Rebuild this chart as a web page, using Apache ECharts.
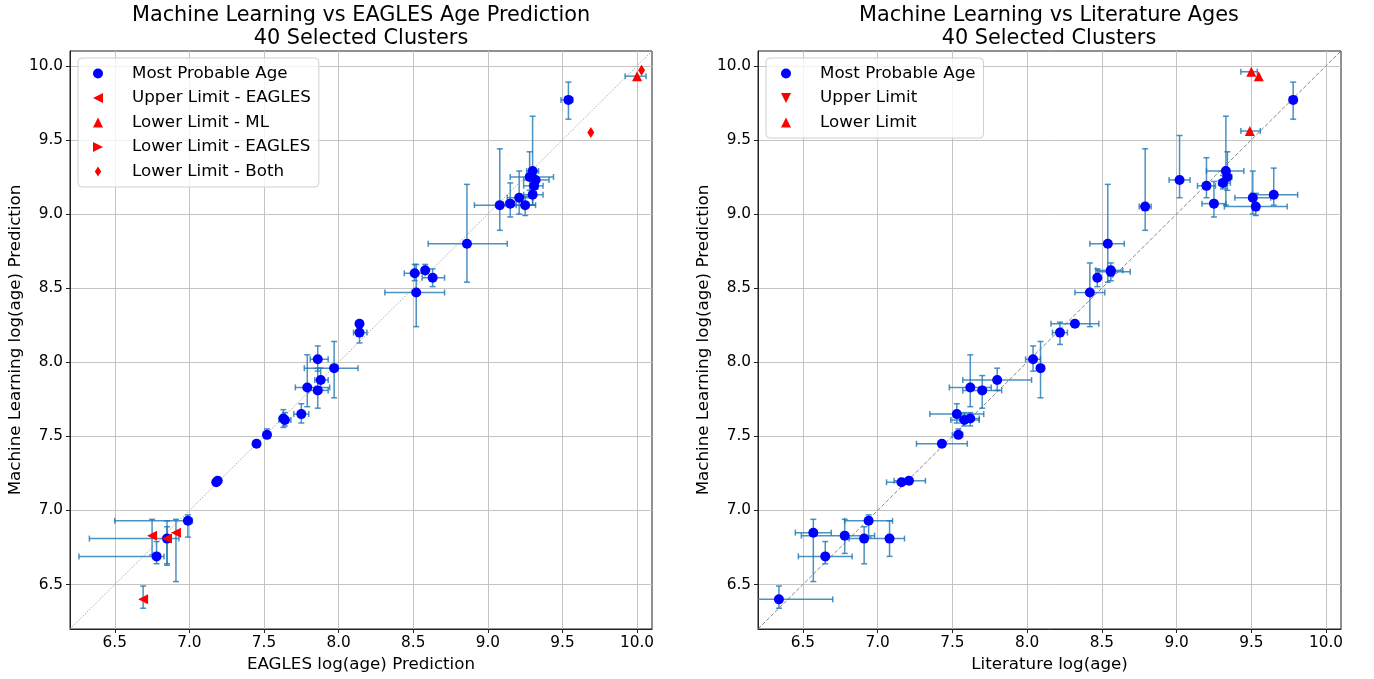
<!DOCTYPE html>
<html>
<head>
<meta charset="utf-8">
<script src="https://cdn.jsdelivr.net/npm/echarts@6.0.0/dist/echarts.min.js"></script>
<style>
  html, body { margin: 0; padding: 0; background: #fff; }
  #chart { width: 1374px; height: 679px; }
</style>
</head>
<body>
<div id="chart"></div>
<script>
// axis range and ticks (both panels)
const axisMin = 6.2;
const axisMax = 10.1;
const tickValues = [6.5, 7.0, 7.5, 8.0, 8.5, 9.0, 9.5, 10.0];
const diagonal = [[6.2, 6.2], [10.1, 10.1]];

// rows: [x, y, xLow, xHigh, yLow, yHigh]
// left panel: EAGLES prediction vs ML prediction
const eaglesMostProbable = [
  [9.54, 9.77, 9.49, 9.57, 9.64, 9.89],
  [9.30, 9.29, 9.26, 9.34, 9.06, 9.66],
  [9.28, 9.25, 9.15, 9.44, 9.16, 9.42],
  [9.32, 9.23, 9.24, 9.41, 9.17, 9.29],
  [9.31, 9.19, 9.24, 9.37, 9.15, 9.26],
  [9.30, 9.13, 9.24, 9.37, 9.06, 9.28],
  [9.21, 9.11, 9.13, 9.30, 9.00, 9.29],
  [9.15, 9.07, 9.12, 9.18, 8.98, 9.21],
  [9.08, 9.06, 8.91, 9.26, 8.89, 9.44],
  [9.25, 9.06, 9.19, 9.32, 8.99, 9.12],
  [8.86, 8.80, 8.60, 9.13, 8.54, 9.20],
  [8.51, 8.60, 8.44, 8.58, 8.55, 8.66],
  [8.58, 8.62, 8.58, 8.58, 8.60, 8.66],
  [8.63, 8.57, 8.56, 8.71, 8.51, 8.63],
  [8.52, 8.47, 8.31, 8.71, 8.24, 8.66],
  [8.14, 8.26, 8.14, 8.14, 8.24, 8.28],
  [8.14, 8.20, 8.10, 8.19, 8.13, 8.25],
  [7.86, 8.02, 7.81, 7.93, 7.94, 8.11],
  [7.97, 7.96, 7.77, 8.13, 7.76, 8.14],
  [7.88, 7.88, 7.84, 7.93, 7.81, 7.96],
  [7.79, 7.83, 7.71, 7.94, 7.70, 8.05],
  [7.86, 7.81, 7.80, 7.93, 7.69, 7.96],
  [7.75, 7.65, 7.70, 7.80, 7.59, 7.72],
  [7.63, 7.62, 7.63, 7.63, 7.56, 7.68],
  [7.64, 7.61, 7.60, 7.68, 7.57, 7.66],
  [7.52, 7.51, 7.52, 7.52, 7.49, 7.55],
  [7.45, 7.45, 7.45, 7.45, 7.45, 7.45],
  [7.18, 7.19, 7.18, 7.18, 7.19, 7.19],
  [7.19, 7.20, 7.19, 7.19, 7.20, 7.20],
  [6.99, 6.93, 6.50, 7.02, 6.82, 6.97],
  [6.85, 6.81, 6.33, 6.93, 6.63, 6.89],
  [6.78, 6.69, 6.26, 6.83, 6.64, 6.79]
];
const eaglesUpperLimit = [
  [6.75, 6.83, 6.75, 6.75, 6.70, 6.94],
  [6.85, 6.81, 6.85, 6.85, 6.64, 6.93],
  [6.91, 6.85, 6.91, 6.91, 6.52, 6.94],
  [6.69, 6.40, 6.69, 6.69, 6.34, 6.49]
];
const mlLowerLimit = [
  [10.00, 9.93, 9.92, 10.06, 9.93, 9.93]
];
const eaglesLowerLimit = [];
const bothLowerLimit = [
  [10.03, 9.97, 10.03, 10.03, 9.97, 9.97],
  [9.69, 9.55, 9.69, 9.69, 9.55, 9.55]
];

// right panel: literature age vs ML prediction
const litMostProbable = [
  [9.78, 9.77, 9.78, 9.78, 9.64, 9.89],
  [9.33, 9.29, 9.20, 9.45, 9.06, 9.66],
  [9.34, 9.25, 9.31, 9.37, 9.16, 9.42],
  [9.31, 9.21, 9.28, 9.36, 9.17, 9.26],
  [9.20, 9.19, 9.14, 9.26, 9.11, 9.38],
  [9.02, 9.23, 8.95, 9.09, 9.11, 9.53],
  [9.25, 9.07, 9.17, 9.33, 8.98, 9.22],
  [9.51, 9.11, 9.39, 9.63, 9.00, 9.29],
  [9.65, 9.13, 9.50, 9.81, 9.06, 9.31],
  [9.53, 9.05, 9.32, 9.74, 8.99, 9.14],
  [8.79, 9.05, 8.75, 8.83, 8.89, 9.44],
  [8.54, 8.80, 8.42, 8.65, 8.54, 9.20],
  [8.56, 8.62, 8.46, 8.64, 8.55, 8.67],
  [8.56, 8.61, 8.48, 8.69, 8.58, 8.64],
  [8.47, 8.57, 8.47, 8.47, 8.51, 8.63],
  [8.42, 8.47, 8.32, 8.52, 8.24, 8.67],
  [8.32, 8.26, 8.16, 8.48, 8.24, 8.28],
  [8.22, 8.20, 8.17, 8.27, 8.12, 8.27],
  [8.04, 8.02, 7.99, 8.09, 7.94, 8.11],
  [8.09, 7.96, 8.09, 8.09, 7.76, 8.14],
  [7.80, 7.88, 7.57, 8.03, 7.81, 7.96],
  [7.62, 7.83, 7.48, 7.76, 7.70, 8.05],
  [7.70, 7.81, 7.57, 7.83, 7.69, 7.91],
  [7.53, 7.65, 7.35, 7.71, 7.59, 7.72],
  [7.58, 7.61, 7.49, 7.68, 7.57, 7.66],
  [7.62, 7.62, 7.55, 7.68, 7.57, 7.66],
  [7.54, 7.51, 7.50, 7.57, 7.49, 7.55],
  [7.43, 7.45, 7.26, 7.60, 7.45, 7.45],
  [7.16, 7.19, 7.06, 7.22, 7.19, 7.19],
  [7.21, 7.20, 7.11, 7.32, 7.20, 7.20],
  [6.94, 6.93, 6.78, 7.10, 6.82, 6.97],
  [6.57, 6.85, 6.45, 6.69, 6.52, 6.94],
  [6.78, 6.83, 6.49, 6.98, 6.71, 6.94],
  [6.91, 6.81, 6.91, 6.91, 6.64, 6.89],
  [7.08, 6.81, 6.81, 7.18, 6.69, 6.93],
  [6.65, 6.69, 6.47, 6.83, 6.64, 6.79],
  [6.34, 6.40, 6.10, 6.70, 6.34, 6.49]
];
const litUpperLimit = [];
const litLowerLimit = [
  [9.50, 9.96, 9.43, 9.54, 9.96, 9.96],
  [9.55, 9.93, 9.55, 9.55, 9.93, 9.93],
  [9.49, 9.56, 9.43, 9.56, 9.56, 9.56]
];

const FONT = 'DejaVu Sans';
const BAR = '#1f77b4';

// marker shapes (matplotlib '<', '>', 'v', '^', 'd')
const triLeft = 'path://M0,5L10,0L10,10Z';
const triRight = 'path://M10,5L0,0L0,10Z';
const triDown = 'path://M0,0L10,0L5,10Z';
const triUp = 'path://M5,0L10,10L0,10Z';
const thinDiamond = 'path://M3.5,0L7,5.5L3.5,11L0,5.5Z';

function bar(x1, y1, x2, y2) {
  return {
    type: 'line',
    shape: { x1: x1, y1: y1, x2: x2, y2: y2 },
    style: { stroke: BAR, lineWidth: 1.5, opacity: 0.8 }
  };
}

// errorbar drawing (matplotlib-like, with caps)
function renderErr(params, api) {
  const x = api.value(0), y = api.value(1);
  const c = api.coord([x, y]);
  const cap = 3;
  const kids = [];
  if (api.value(3) > api.value(2)) {
    const a = api.coord([api.value(2), y])[0];
    const b = api.coord([api.value(3), y])[0];
    kids.push(bar(a, c[1], b, c[1]));
    kids.push(bar(a, c[1] - cap, a, c[1] + cap));
    kids.push(bar(b, c[1] - cap, b, c[1] + cap));
  }
  if (api.value(5) > api.value(4)) {
    const a = api.coord([x, api.value(4)])[1];
    const b = api.coord([x, api.value(5)])[1];
    kids.push(bar(c[0], a, c[0], b));
    kids.push(bar(c[0] - cap, a, c[0] + cap, a));
    kids.push(bar(c[0] - cap, b, c[0] + cap, b));
  }
  return { type: 'group', children: kids };
}

function errSeries(data, idx) {
  return {
    type: 'custom',
    xAxisIndex: idx, yAxisIndex: idx,
    renderItem: renderErr,
    data: data,
    encode: { x: 0, y: 1 },
    clip: true,
    silent: true,
    z: 2
  };
}

function pts(name, data, idx, symbol, size, color) {
  return {
    name: name,
    type: 'scatter',
    xAxisIndex: idx, yAxisIndex: idx,
    data: data.map(r => [r[0], r[1]]),
    symbol: symbol,
    symbolSize: size,
    itemStyle: { color: color, opacity: 1 },
    z: 5
  };
}

function xAx(idx, name) {
  return {
    type: 'value', gridIndex: idx,
    min: axisMin, max: axisMax,
    name: name, nameLocation: 'middle', nameGap: 25,
    nameTextStyle: { fontFamily: FONT, fontSize: 16.7, color: '#000' },
    axisLine: { show: true, lineStyle: { color: '#222', width: 1 } },
    axisTick: { show: true, inside: false, length: 4, customValues: tickValues, lineStyle: { color: '#222' } },
    axisLabel: { customValues: tickValues, fontFamily: FONT, fontSize: 15.3, color: '#000', margin: 7,
      formatter: v => v.toFixed(1) },
    splitLine: { show: true, lineStyle: { color: '#c4c4c4', width: 1 } }
  };
}

function yAx(idx, name) {
  return {
    type: 'value', gridIndex: idx,
    min: axisMin, max: axisMax,
    name: name, nameLocation: 'middle', nameGap: 46,
    nameTextStyle: { fontFamily: FONT, fontSize: 16.7, color: '#000' },
    axisLine: { show: true, lineStyle: { color: '#222', width: 1 } },
    axisTick: { show: true, inside: false, length: 4, customValues: tickValues, lineStyle: { color: '#222' } },
    axisLabel: { customValues: tickValues, fontFamily: FONT, fontSize: 15.3, color: '#000', margin: 7,
      formatter: v => v.toFixed(1) },
    splitLine: { show: true, lineStyle: { color: '#c4c4c4', width: 1 } }
  };
}

function legendBox(left, items) {
  return {
    orient: 'vertical',
    left: left, top: 58,
    data: items,
    itemWidth: 10, itemHeight: 10,
    itemGap: 5.5,
    padding: [6, 8, 6, 15],
    backgroundColor: 'rgba(255,255,255,0.8)',
    borderColor: '#d0d0d0', borderWidth: 1, borderRadius: 4,
    textStyle: { fontFamily: FONT, fontSize: 16.7, color: '#000', lineHeight: 19, padding: [0, 0, 0, 24] },
    selectedMode: false
  };
}

const chart = echarts.init(document.getElementById('chart'), null, { renderer: 'canvas' });

chart.setOption({
  backgroundColor: '#fff',
  animation: false,
  title: [
    { text: 'Machine Learning vs EAGLES Age Prediction\n40 Selected Clusters', left: 361, top: 4, padding: 0, textAlign: 'center',
      textStyle: { fontFamily: FONT, fontSize: 20.8, fontWeight: 'normal', color: '#000', lineHeight: 23 } },
    { text: 'Machine Learning vs Literature Ages\n40 Selected Clusters', left: 1049, top: 4, padding: 0, textAlign: 'center',
      textStyle: { fontFamily: FONT, fontSize: 20.8, fontWeight: 'normal', color: '#000', lineHeight: 23 } }
  ],
  legend: [
    legendBox(78, [
      { name: 'Most Probable Age', icon: 'circle' },
      { name: 'Upper Limit - EAGLES', icon: triLeft },
      { name: 'Lower Limit - ML', icon: triUp },
      { name: 'Lower Limit - EAGLES', icon: triRight },
      { name: 'Lower Limit - Both', icon: thinDiamond }
    ]),
    legendBox(766, [
      { name: 'Most Probable Age', icon: 'circle' },
      { name: 'Upper Limit', icon: triDown },
      { name: 'Lower Limit', icon: triUp }
    ])
  ],
  grid: [
    { left: 70, top: 51, width: 582, height: 578, show: true, borderColor: '#222', borderWidth: 1, containLabel: false },
    { left: 758, top: 51, width: 583, height: 578, show: true, borderColor: '#222', borderWidth: 1, containLabel: false }
  ],
  xAxis: [xAx(0, 'EAGLES log(age) Prediction'), xAx(1, 'Literature log(age)')],
  yAxis: [yAx(0, 'Machine Learning log(age) Prediction'), yAx(1, 'Machine Learning log(age) Prediction')],
  series: [
    { type: 'line', xAxisIndex: 0, yAxisIndex: 0, data: diagonal, symbol: 'none', silent: true, z: 1,
      lineStyle: { color: '#999', width: 0.8, type: [1.5, 1.5] } },
    { type: 'line', xAxisIndex: 1, yAxisIndex: 1, data: diagonal, symbol: 'none', silent: true, z: 1,
      lineStyle: { color: '#888', width: 1, type: [4, 2] } },
    errSeries(eaglesMostProbable, 0),
    errSeries(eaglesUpperLimit, 0),
    errSeries(mlLowerLimit, 0),
    errSeries(bothLowerLimit, 0),
    errSeries(litMostProbable, 1),
    errSeries(litLowerLimit, 1),
    pts('Most Probable Age', eaglesMostProbable, 0, 'circle', 10, '#0000ff'),
    pts('Upper Limit - EAGLES', eaglesUpperLimit, 0, triLeft, 10, '#ff0000'),
    pts('Lower Limit - ML', mlLowerLimit, 0, triUp, 10, '#ff0000'),
    pts('Lower Limit - EAGLES', eaglesLowerLimit, 0, triRight, 10, '#ff0000'),
    pts('Lower Limit - Both', bothLowerLimit, 0, thinDiamond, [7, 11], '#ff0000'),
    pts('Most Probable Age', litMostProbable, 1, 'circle', 10, '#0000ff'),
    pts('Upper Limit', litUpperLimit, 1, triDown, 10, '#ff0000'),
    pts('Lower Limit', litLowerLimit, 1, triUp, 10, '#ff0000')
  ]
});
</script>
</body>
</html>
